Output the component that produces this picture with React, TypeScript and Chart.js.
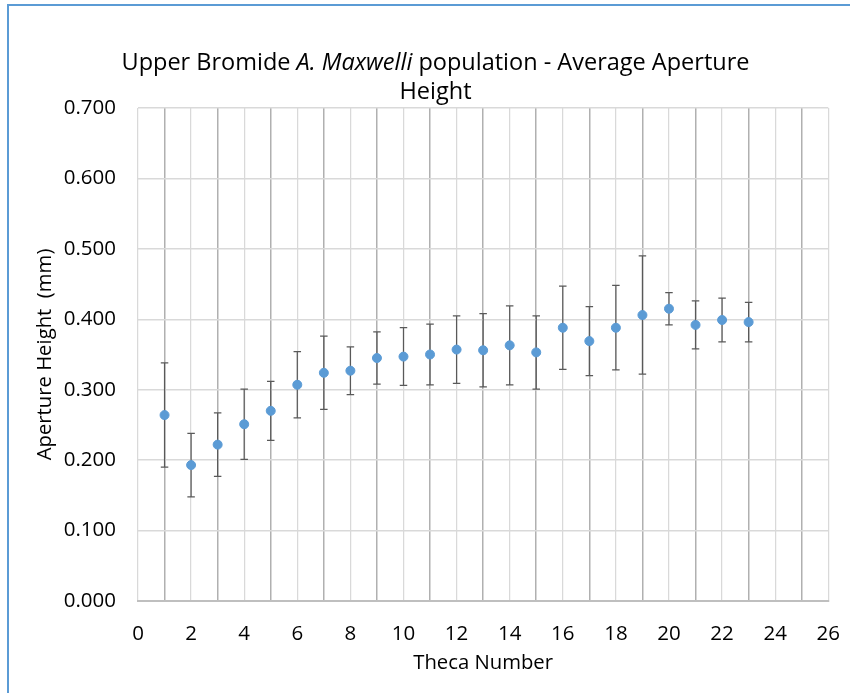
import React, { useEffect, useRef } from "react";
import { Chart, registerables } from "chart.js";

Chart.register(...registerables);

// ---- Data ----
const thecaNumbers = [1, 2, 3, 4, 5, 6, 7, 8, 9, 10, 11, 12, 13, 14, 15, 16, 17, 18, 19, 20, 21, 22, 23];
const meanHeights = [
  0.264, 0.193, 0.222, 0.251, 0.270, 0.307, 0.324, 0.327, 0.345, 0.347, 0.350, 0.357,
  0.356, 0.363, 0.353, 0.388, 0.369, 0.388, 0.406, 0.415, 0.392, 0.399, 0.396,
];
const errorAmounts = [
  0.074, 0.045, 0.045, 0.050, 0.042, 0.047, 0.052, 0.034, 0.037, 0.041, 0.043, 0.048,
  0.052, 0.056, 0.052, 0.059, 0.049, 0.060, 0.084, 0.023, 0.034, 0.031, 0.028,
];
const xAxisMin = 0;
const xAxisMax = 26;
const yAxisMin = 0;
const yAxisMax = 0.7;
const titleLine1Parts = [
  { text: "Upper Bromide ", italic: false },
  { text: "A. Maxwelli", italic: true },
  { text: " population - Average Aperture", italic: false },
];
const titleLine2 = "Height";
const xAxisTitle = "Theca Number";
const yAxisTitle = "Aperture Height  (mm)";

const FONT = '"Open Sans", sans-serif';
const POINT_COLOR = "#5b9bd5";

const errorBarPlugin = {
  id: "errorBars",
  beforeDatasetsDraw(chart: any) {
    const { ctx, scales } = chart;
    const xs = scales.x;
    const ys = scales.y;
    ctx.save();
    ctx.strokeStyle = "#595959";
    ctx.lineWidth = 1.25;
    const cap = 3.75;
    thecaNumbers.forEach((t, i) => {
      const px = xs.getPixelForValue(t);
      const top = ys.getPixelForValue(meanHeights[i] + errorAmounts[i]);
      const bot = ys.getPixelForValue(meanHeights[i] - errorAmounts[i]);
      ctx.beginPath();
      ctx.moveTo(px, top);
      ctx.lineTo(px, bot);
      ctx.moveTo(px - cap, top);
      ctx.lineTo(px + cap, top);
      ctx.moveTo(px - cap, bot);
      ctx.lineTo(px + cap, bot);
      ctx.stroke();
    });
    ctx.restore();
  },
};

const mixedTitlePlugin = {
  id: "mixedTitle",
  afterDraw(chart: any) {
    const ctx = chart.ctx;
    const size = 23.5;
    const fontFor = (italic: boolean) => `${italic ? "italic " : ""}${size}px ${FONT}`;
    const cx = chart.width / 2;
    ctx.save();
    ctx.fillStyle = "#000000";
    ctx.textBaseline = "middle";
    ctx.textAlign = "left";
    let total = 0;
    titleLine1Parts.forEach((p) => {
      ctx.font = fontFor(p.italic);
      total += ctx.measureText(p.text).width;
    });
    let x = cx - total / 2;
    titleLine1Parts.forEach((p) => {
      ctx.font = fontFor(p.italic);
      ctx.fillText(p.text, x, 53);
      x += ctx.measureText(p.text).width;
    });
    ctx.font = fontFor(false);
    ctx.textAlign = "center";
    ctx.fillText(titleLine2, cx, 82);
    ctx.restore();
  },
};

export default function App() {
  const canvasRef = useRef<HTMLCanvasElement | null>(null);

  useEffect(() => {
    if (!canvasRef.current) return;
    const points = thecaNumbers.map((t, i) => ({ x: t, y: meanHeights[i] }));
    const chart = new Chart(canvasRef.current, {
      type: "scatter",
      data: {
        datasets: [
          {
            data: points,
            backgroundColor: POINT_COLOR,
            borderColor: POINT_COLOR,
            borderWidth: 1,
            pointRadius: 4.5,
            showLine: false,
          },
        ],
      },
      options: {
        animation: false,
        responsive: false,
        devicePixelRatio: 1,
        layout: { padding: { top: 98, right: 14, bottom: 0, left: 0 } },
        plugins: {
          legend: { display: false },
          tooltip: { enabled: false },
          title: { display: false },
        },
        scales: {
          x: {
            type: "linear",
            min: xAxisMin,
            max: xAxisMax,
            afterFit: (scale: any) => {
              scale.height = 92;
            },
            ticks: {
              stepSize: 1,
              autoSkip: false,
              maxRotation: 0,
              padding: 21,
              color: "#000000",
              font: { family: FONT, size: 20.5 },
              callback: (v: any) => (Number(v) % 2 === 0 ? String(v) : ""),
            },
            grid: {
              drawTicks: false,
              color: (c: any) => (c.tick && c.tick.value % 2 === 1 ? "#b0b0b0" : "#d9d9d9"),
              lineWidth: (c: any) => (c.tick && c.tick.value % 2 === 1 ? 1.5 : 1.25),
            },
            border: { display: true, color: "#bfbfbf", width: 2 },
            title: {
              display: true,
              text: xAxisTitle,
              color: "#000000",
              font: { family: FONT, size: 20.3 },
              padding: { top: 0, bottom: 18 },
            },
          },
          y: {
            type: "linear",
            min: yAxisMin,
            max: yAxisMax,
            afterFit: (scale: any) => {
              scale.width = 128;
            },
            ticks: {
              stepSize: 0.1,
              padding: 22,
              color: "#000000",
              font: { family: FONT, size: 20.5 },
              callback: (v: any) => Number(v).toFixed(3),
            },
            grid: {
              drawTicks: false,
              color: "#d9d9d9",
              lineWidth: 1.5,
            },
            border: { display: false },
            title: {
              display: true,
              text: yAxisTitle,
              color: "#000000",
              font: { family: FONT, size: 20.3 },
              padding: { top: 23, bottom: 0 },
            },
          },
        },
      },
      plugins: [errorBarPlugin, mixedTitlePlugin],
    } as any);
    return () => chart.destroy();
  }, []);

  return (
    <div
      style={{
        position: "fixed",
        left: 7,
        top: 4,
        width: 843,
        height: 689,
        overflow: "hidden",
        background: "#ffffff",
      }}
    >
      <div
        style={{
          position: "absolute",
          left: 0,
          top: 0,
          width: 900,
          height: 760,
          border: "2px solid #5b9bd5",
          boxSizing: "border-box",
        }}
      />
      <canvas
        ref={canvasRef}
        width={851}
        height={683}
        style={{ position: "absolute", left: 3, top: 6, width: 851, height: 683 }}
      />
    </div>
  );
}
